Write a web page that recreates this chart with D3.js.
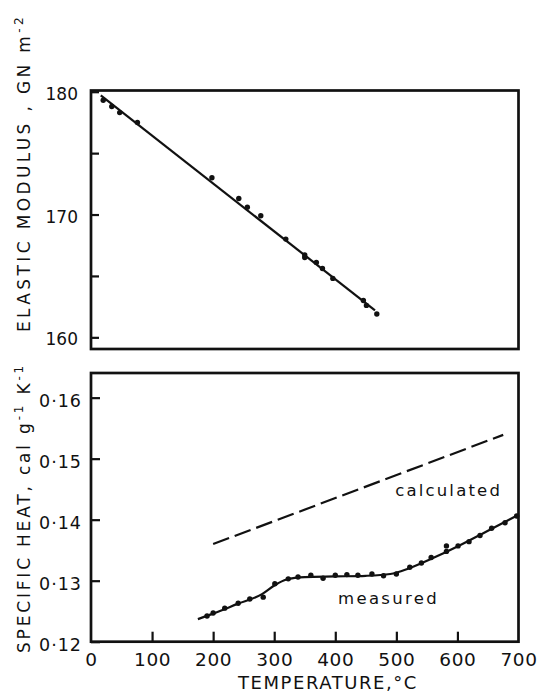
<!DOCTYPE html>
<html>
<head>
<meta charset="utf-8">
<script src="https://cdn.jsdelivr.net/npm/d3@7"></script>
<style>
  html, body { margin: 0; padding: 0; background: #fff; }
  svg { display: block; }
  text { font-family: "DejaVu Sans", sans-serif; fill: #111; }
</style>
</head>
<body>
<svg id="chart" width="543" height="692"></svg>
<script>
// elastic modulus (top panel)
const modulusTemp = [20, 34, 47, 76, 198, 242, 256, 278, 319, 350, 350, 369, 379, 396, 446, 451, 468];
const modulusVal = [179.3, 178.8, 178.3, 177.5, 173.0, 171.3, 170.6, 169.9, 168.0, 166.7, 166.5, 166.1, 165.6, 164.8, 163.0, 162.6, 161.9];
const modulusFitTemp = [16, 465];
const modulusFitVal = [179.7, 162.2];
const modulusTicks = [160, 165, 170, 175, 180];
const modulusLabels = ["160", "", "170", "", "180"];

// specific heat (bottom panel)
const heatTemp = [190, 200, 219, 241, 260, 282, 301, 323, 339, 360, 380, 400, 419, 437, 460, 479, 500, 522, 541, 557, 582, 582, 601, 619, 637, 656, 678, 697];
const heatVal = [0.1242, 0.1247, 0.1255, 0.1263, 0.1270, 0.1273, 0.1295, 0.1303, 0.1306, 0.1309, 0.1304, 0.1309, 0.1310, 0.1309, 0.1311, 0.1308, 0.1311, 0.1322, 0.1329, 0.1338, 0.1357, 0.1348, 0.1357, 0.1364, 0.1374, 0.1386, 0.1395, 0.1406];
const measuredTemp = [175, 200, 240, 280, 300, 320, 350, 400, 450, 490, 520, 560, 600, 650, 700];
const measuredVal = [0.1237, 0.1246, 0.1262, 0.1278, 0.1292, 0.1302, 0.1306, 0.1307, 0.1308, 0.1311, 0.1320, 0.1337, 0.1356, 0.1382, 0.1408];
const calcTemp = [200, 675];
const calcVal = [0.1360, 0.1539];
const heatTicks = [0.12, 0.13, 0.14, 0.15, 0.16];
const heatLabels = ["0·12", "0·13", "0·14", "0·15", "0·16"];
const tempTicks = [0, 100, 200, 300, 400, 500, 600, 700];
const tempLabels = ["0", "100", "200", "300", "400", "500", "600", "700"];

const svg = d3.select("#chart");
const left = 91, right = 518.5;

const x = d3.scaleLinear().domain([0, 700]).range([left, right]);
const yTop = d3.scaleLinear().domain([159.05, 180.1]).range([349, 90.5]);
const yBot = d3.scaleLinear().domain([0.12, 0.16404]).range([641.7, 373]);

// stretch a text to a given width with letter spacing
function fitText(sel, width) {
    const node = sel.node();
    const n = node.getNumberOfChars();
    const w = node.getComputedTextLength();
    sel.attr("letter-spacing", (width - w) / n);
}

function frame(y) {
    svg.append("rect")
        .attr("x", left)
        .attr("y", y.range()[1])
        .attr("width", right - left)
        .attr("height", y.range()[0] - y.range()[1])
        .attr("fill", "none")
        .attr("stroke", "#111")
        .attr("stroke-width", 2.7);
}

function cleanAxis(g) {
    g.select(".domain").remove();
    g.selectAll(".tick line").attr("stroke", "#111").attr("stroke-width", 2.2);
    g.selectAll(".tick text").attr("fill", "#111");
}

// ---- top panel
frame(yTop);
svg.append("g")
    .attr("transform", `translate(${left},0)`)
    .call(d3.axisLeft(yTop).tickValues(modulusTicks)
        .tickFormat((d, i) => modulusLabels[i])
        .tickSizeInner(-8).tickSizeOuter(0).tickPadding(13))
    .attr("font-size", 17)
    .attr("font-family", null)
    .call(cleanAxis)
    .selectAll(".tick text").attr("dy", "0.45em");

svg.append("path")
    .datum(modulusFitTemp.map((t, i) => [t, modulusFitVal[i]]))
    .attr("fill", "none")
    .attr("stroke", "#111")
    .attr("stroke-width", 2.2)
    .attr("d", d3.line().x(d => x(d[0])).y(d => yTop(d[1])));

svg.append("g").selectAll("circle")
    .data(modulusTemp.map((t, i) => [t, modulusVal[i]]))
    .join("circle")
    .attr("cx", d => x(d[0]))
    .attr("cy", d => yTop(d[1]))
    .attr("r", 2.7)
    .attr("fill", "#111");

const t1 = svg.append("text")
    .attr("transform", "translate(29.5,173) rotate(-90)")
    .attr("text-anchor", "middle")
    .attr("font-size", 17);
t1.append("tspan").text("ELASTIC MODULUS , GN m");
t1.append("tspan").attr("font-size", 12).attr("dy", -7).text("-2");
fitText(t1, 318);

// ---- bottom panel
frame(yBot);
svg.append("g")
    .attr("transform", `translate(${left},0)`)
    .call(d3.axisLeft(yBot).tickValues(heatTicks)
        .tickFormat((d, i) => heatLabels[i])
        .tickSizeInner(-9).tickSizeOuter(0).tickPadding(9))
    .attr("font-size", 17.5)
    .attr("font-family", null)
    .call(cleanAxis)
    .selectAll(".tick text").attr("dy", "0.5em").attr("letter-spacing", 1);

svg.append("g")
    .attr("transform", `translate(0,${yBot.range()[0]})`)
    .call(d3.axisBottom(x).tickValues(tempTicks)
        .tickFormat((d, i) => tempLabels[i])
        .tickSizeInner(-10).tickSizeOuter(0).tickPadding(11))
    .attr("font-size", 18.5)
    .attr("font-family", null)
    .call(cleanAxis)
    .call(g => g.selectAll(".tick line").filter(d => d === 0 || d === 700).remove())
    .call(g => g.selectAll(".tick text").attr("letter-spacing", 0.6));

svg.append("path")
    .datum(calcTemp.map((t, i) => [t, calcVal[i]]))
    .attr("fill", "none")
    .attr("stroke", "#111")
    .attr("stroke-width", 2.2)
    .attr("stroke-dasharray", "17,6")
    .attr("d", d3.line().x(d => x(d[0])).y(d => yBot(d[1])));

svg.append("path")
    .datum(measuredTemp.map((t, i) => [t, measuredVal[i]]))
    .attr("fill", "none")
    .attr("stroke", "#111")
    .attr("stroke-width", 2.2)
    .attr("d", d3.line().curve(d3.curveMonotoneX).x(d => x(d[0])).y(d => yBot(d[1])));

svg.append("g").selectAll("circle")
    .data(heatTemp.map((t, i) => [t, heatVal[i]]))
    .join("circle")
    .attr("cx", d => x(d[0]))
    .attr("cy", d => yBot(d[1]))
    .attr("r", 2.7)
    .attr("fill", "#111");

const calcLabel = svg.append("text")
    .attr("x", x(498)).attr("y", yBot(0.14385))
    .attr("font-size", 16.5)
    .text("calculated");
fitText(calcLabel, 107);

const measLabel = svg.append("text")
    .attr("x", x(404.5)).attr("y", yBot(0.12618))
    .attr("font-size", 16.5)
    .text("measured");
fitText(measLabel, 101);

const t2 = svg.append("text")
    .attr("transform", "translate(30,508) rotate(-90)")
    .attr("text-anchor", "middle")
    .attr("font-size", 17);
t2.append("tspan").text("SPECIFIC HEAT, cal g");
t2.append("tspan").attr("font-size", 12).attr("dy", -7).text("-1");
t2.append("tspan").attr("dy", 7).text(" K");
t2.append("tspan").attr("font-size", 12).attr("dy", -7).text("-1");
fitText(t2, 290);

const xTitle = svg.append("text")
    .attr("x", 328).attr("y", 688.5)
    .attr("text-anchor", "middle")
    .attr("font-size", 18)
    .text("TEMPERATURE,°C");
fitText(xTitle, 180);
</script>
</body>
</html>
